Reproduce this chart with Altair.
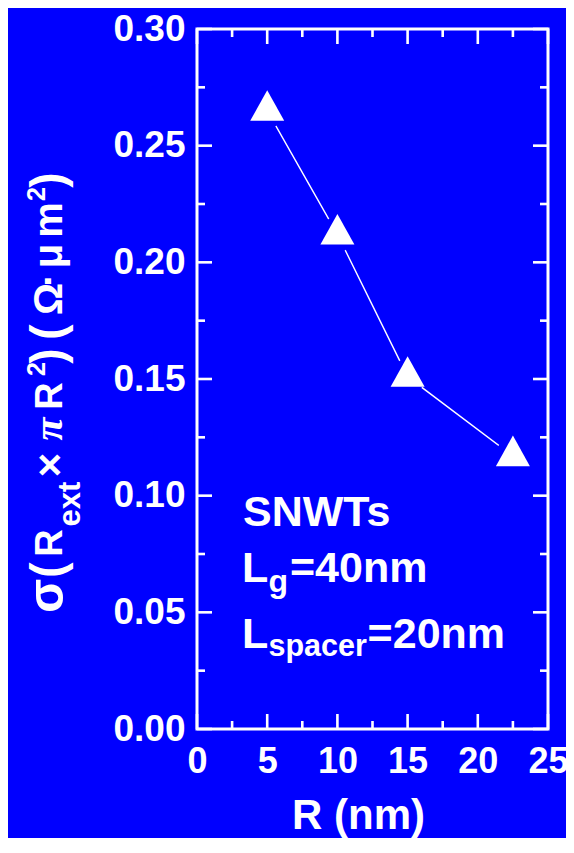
import altair as alt
import pandas as pd

# ---------------- data ----------------
R_nm = [5, 10, 15, 22.5]
sigma_val = [0.265, 0.212, 0.151, 0.117]

x_major = [0, 5, 10, 15, 20, 25]
x_minor = [2.5, 7.5, 12.5, 17.5, 22.5]
y_major = [0.00, 0.05, 0.10, 0.15, 0.20, 0.25, 0.30]
y_minor = [0.025, 0.075, 0.125, 0.175, 0.225, 0.275]

x_title = "R (nm)"
y_title_glyphs = ["σ", "(", "R", "ext", "×", "π", "R", "2", ")", "(", "Ω", "·", "μ", "m", "2", ")"]
note_main = ["SNWTs", "L", "=40nm", "L", "=20nm"]
note_sub = ["g", "spacer"]

# ---------------- layout / style ----------------
BLUE = "#0000ff"
WHITE = "#ffffff"
FONT = "Liberation Sans"
W, H = 351, 700
PL, PT = 189, 21          # plot origin on page = (197, 29)
OX, OY = 197, 29

df = pd.DataFrame({"R": R_nm, "s": sigma_val})

xs = alt.Scale(domain=[0, 25], nice=False, zero=False)
ys = alt.Scale(domain=[0, 0.30], nice=False, zero=False)

x_axis = alt.Axis(values=x_major, format="d", labelFont=FONT, labelFontSize=36,
                  labelFontWeight="bold", labelColor=WHITE, labelPadding=15,
                  labelFlush=False, labelOverlap=False, labelBound=False,
                  ticks=False, tickSize=0, domain=False, grid=False,
                  title=x_title, titleFont=FONT, titleFontSize=42, titleFontWeight="bold",
                  titleColor=WHITE, titleX=161, titleY=99, titleAlign="center",
                  titleBaseline="alphabetic", titleAngle=0)
y_axis = alt.Axis(values=y_major, format=".2f", labelFont=FONT, labelFontSize=37,
                  labelFontWeight="bold", labelColor=WHITE, labelPadding=12,
                  labelFlush=False, labelOverlap=False, labelBound=False,
                  ticks=False, tickSize=0, domain=False, grid=False, title=None)

base = alt.Chart(df)
line = base.mark_line(color=WHITE, strokeWidth=1.4).encode(
    x=alt.X("R:Q", scale=xs, axis=x_axis),
    y=alt.Y("s:Q", scale=ys, axis=y_axis),
)
gaps = base.mark_point(shape="circle", filled=True, color=BLUE, opacity=1, size=1257).encode(
    x=alt.X("R:Q", scale=xs), y=alt.Y("s:Q", scale=ys))
tri = base.mark_point(shape="M0,-1.2L1,0.6L-1,0.6Z", filled=True, color=WHITE, opacity=1,
                      size=1156, strokeWidth=0).encode(
    x=alt.X("R:Q", scale=xs), y=alt.Y("s:Q", scale=ys))

layers = [line, gaps, tri]

MAJ, MIN = 15, 8
def xticks(vals, length):
    d = pd.DataFrame({"v": vals})
    bot = alt.Chart(d).mark_rule(color=WHITE, strokeWidth=2.6).encode(
        x=alt.X("v:Q", scale=xs), y=alt.value(H), y2=alt.value(H - length))
    top = alt.Chart(d).mark_rule(color=WHITE, strokeWidth=2.6).encode(
        x=alt.X("v:Q", scale=xs), y=alt.value(0), y2=alt.value(length))
    return [bot, top]

def yticks(vals, length):
    d = pd.DataFrame({"v": vals})
    left = alt.Chart(d).mark_rule(color=WHITE, strokeWidth=2.6).encode(
        y=alt.Y("v:Q", scale=ys), x=alt.value(0), x2=alt.value(length))
    right = alt.Chart(d).mark_rule(color=WHITE, strokeWidth=2.6).encode(
        y=alt.Y("v:Q", scale=ys), x=alt.value(W), x2=alt.value(W - length))
    return [left, right]

layers += xticks(x_major, MAJ) + xticks(x_minor, MIN) + yticks(y_major, MAJ) + yticks(y_minor, MIN)

def txt(s, px, py, size, font=FONT, angle=0, align="left", style="normal"):
    d = pd.DataFrame({"label": [s]})
    return alt.Chart(d).mark_text(font=font, fontSize=size, fontWeight="bold", fontStyle=style,
                                  color=WHITE, align=align, baseline="alphabetic",
                                  angle=angle).encode(
        text="label:N", x=alt.value(px - OX), y=alt.value(py - OY))

# annotation block (page coordinates)
layers += [
    txt(note_main[0], 243, 526, 43),
    txt(note_main[1], 242, 582, 43),
    txt(note_sub[0], 268.5, 592, 32),
    txt(note_main[2], 290, 582, 43),
    txt(note_main[3], 242, 648, 43),
    txt(note_sub[1], 268.5, 656, 30.5),
    txt(note_main[4], 367.6, 648, 43),
]

# rotated y title, glyph by glyph (centre y on page, baseline x on page, size, font, style)
ypos = [
    (596, 63, 50, FONT, "normal"),
    (570, 63, 46, FONT, "normal"),
    (543, 62, 38, FONT, "normal"),
    (504, 80, 31, FONT, "normal"),
    (465, 64, 42, FONT, "normal"),
    (429, 62, 42, "Liberation Serif", "italic"),
    (396, 62, 38, FONT, "normal"),
    (369, 45, 25, FONT, "normal"),
    (356, 63, 46, FONT, "normal"),
    (332, 63, 46, FONT, "normal"),
    (299, 62, 40, FONT, "normal"),
    (280, 62, 40, FONT, "normal"),
    (256, 62, 40, FONT, "normal"),
    (220, 62, 40, FONT, "normal"),
    (194, 45, 25, FONT, "normal"),
    (180, 63, 46, FONT, "normal"),
]
for g, (cy, bx, sz, fnt, sty) in zip(y_title_glyphs, ypos):
    layers.append(txt(g, bx, cy, sz, font=fnt, angle=270, align="center", style=sty))

chart = alt.layer(*layers).properties(
    width=W, height=H,
    autosize=alt.AutoSizeParams(type="none"),
    padding={"left": PL, "top": PT, "right": 18, "bottom": 109},
    background=BLUE,
).configure_view(stroke=WHITE, strokeWidth=3)

chart.save("out.html", embed_options={"renderer": "svg", "actions": False})
